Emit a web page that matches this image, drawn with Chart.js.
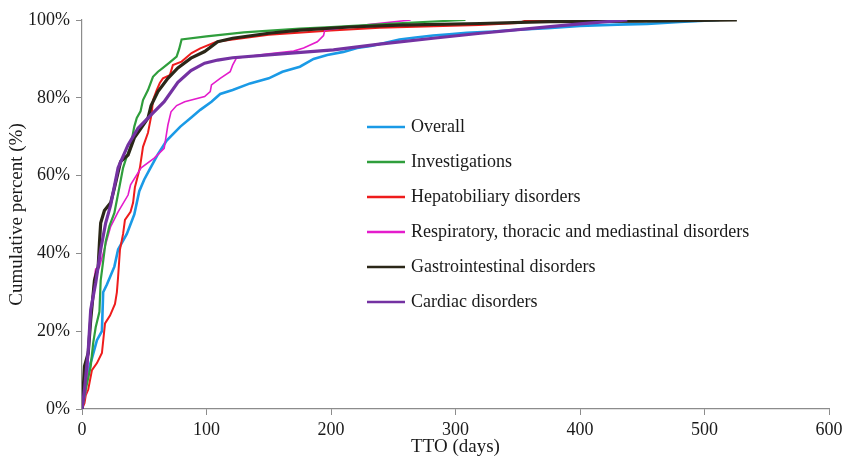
<!DOCTYPE html>
<html>
<head>
<meta charset="utf-8">
<script src="https://cdn.jsdelivr.net/npm/chart.js@4"></script>
<style>
  html, body { margin: 0; padding: 0; background: #fff; }
  #wrap { width: 842px; height: 458px; }
</style>
</head>
<body>
<div id="wrap"><canvas id="tto"></canvas></div>
<script>
// day values, cumulative percent per day
const overallDays = [0, 2, 4, 8, 12, 16, 17, 20, 26, 29, 36, 42, 46, 50, 55, 61, 68, 79, 88, 95, 104, 111, 121, 135, 150, 161, 175, 186, 197, 210, 221, 232, 242, 255, 268, 282, 295, 309, 330, 350, 374, 400, 430, 454, 480, 512];
const overallPct  = [0, 6, 9, 13, 17.7, 20, 30, 32, 36.6, 41, 45, 50, 56, 59, 62, 65.5, 69, 72.6, 75, 76.9, 79, 81, 82, 83.7, 85, 86.7, 88, 90, 91, 91.8, 92.8, 93.3, 94, 95, 95.5, 96, 96.3, 96.7, 97, 97.5, 97.9, 98.5, 98.8, 99, 99.5, 100];

const investDays = [0, 3, 7, 9, 11, 14, 15, 17, 19, 22, 26, 30, 33, 36, 39, 42, 44, 47, 49, 53, 57, 61, 65, 70, 76, 78, 80, 100, 130, 175, 200, 250, 308];
const investPct  = [0, 5, 11, 17, 21, 25, 33, 38, 43, 47, 50.4, 57, 62, 65, 67.5, 72.6, 74.8, 76.5, 79.4, 82, 85.4, 86.7, 87.7, 89, 90.6, 92.5, 95, 95.8, 96.8, 97.8, 98.2, 99.1, 100];

const hepatoDays = [0, 2, 3, 5, 8, 12, 16, 18.5, 22.5, 26.5, 28, 29, 30.5, 33, 34.5, 39, 41, 42.5, 46.5, 49, 53, 56, 57, 60, 62.5, 65, 70.5, 73, 80, 88, 95, 108, 121, 150, 200, 239, 319, 350, 358, 377];
const hepatoPct  = [0, 1.5, 3.5, 5, 10, 11.8, 14.4, 22, 24, 27, 30, 34, 41, 45, 48.6, 50.7, 53, 57, 62, 67.4, 71, 76, 79.4, 82, 83.8, 85, 85.8, 88.4, 89.3, 91.5, 92.7, 94.4, 95, 96.2, 97.3, 98, 98.7, 99.2, 100, 100];

const respDays = [0, 3, 5, 7, 10, 11, 14, 17, 23, 29, 37, 39, 47.5, 58, 66, 69, 71.5, 76, 82.5, 98.5, 103, 104, 111, 119, 121, 124, 130, 150, 170, 178, 189, 194, 195, 230, 264];
const respPct  = [0, 4, 12.6, 23.7, 34, 36, 36.6, 40, 46.9, 50.7, 55, 57.6, 62, 64.5, 67, 73, 76.4, 78, 79, 80.3, 81.6, 83.3, 85, 86.7, 88.4, 90.2, 90.5, 91.3, 92, 92.8, 94.4, 96, 97.4, 98.8, 100];

const gastroDays = [0, 1, 2, 5, 7, 10, 13, 14, 15, 18, 23, 26, 31, 37, 42, 47.5, 53, 55.5, 61, 69, 77, 87.5, 98.5, 109, 121, 150, 175, 215, 255, 320, 376, 450, 526];
const gastroPct  = [0, 5, 11, 14.4, 23, 33, 36.6, 42.6, 47.8, 51, 53, 56.8, 63.6, 65.3, 69.7, 72.2, 74.8, 78, 81.6, 85, 87.7, 90.2, 91.9, 94.4, 95.3, 96.6, 97.4, 98.2, 98.7, 99.1, 99.6, 99.7, 100];

const cardiacDays = [0, 2, 5, 7, 11, 15, 19, 23, 29, 37, 45, 55.5, 66, 77, 87.5, 98.5, 109, 121, 160, 202, 239, 282, 320, 376, 400, 438];
const cardiacPct  = [0, 5, 15, 25.5, 32.4, 41, 47.8, 52.4, 62, 67.9, 72.2, 75.6, 79, 84, 87, 88.9, 89.7, 90.3, 91.3, 92.3, 93.8, 95.3, 96.6, 98.3, 99, 100];

const seriesNames = ['Overall', 'Investigations', 'Hepatobiliary disorders', 'Respiratory, thoracic and mediastinal disorders', 'Gastrointestinal disorders', 'Cardiac disorders'];
const seriesColors = ['#1a9ae6', '#2f9e3c', '#ee1c1c', '#e41ccc', '#2b2718', '#7432a2'];
const seriesWidths = [2.6, 2.2, 2, 1.6, 3.2, 3.2];

const xTicks = [0, 100, 200, 300, 400, 500, 600];
const yTicks = [0, 20, 40, 60, 80, 100];

const FONT = '"Liberation Serif", "Times New Roman", serif';

function pts(days, pct) {
    return days.map((d, i) => ({ x: d, y: pct[i] }));
}

const allDays = [overallDays, investDays, hepatoDays, respDays, gastroDays, cardiacDays];
const allPct = [overallPct, investPct, hepatoPct, respPct, gastroPct, cardiacPct];

// draw order: later ones sit on top
const drawOrder = [0, 2, 3, 1, 4, 5];

const datasets = seriesNames.map((name, i) => ({
    label: name,
    data: pts(allDays[i], allPct[i]),
    borderColor: seriesColors[i],
    backgroundColor: seriesColors[i],
    borderWidth: seriesWidths[i],
    pointRadius: 0,
    showLine: true,
    tension: 0,
    order: 6 - drawOrder.indexOf(i)
}));

// legend inside the plot, like the original figure
const insideLegend = {
    id: 'insideLegend',
    afterDraw(chart) {
        const ctx = chart.ctx;
        const area = chart.chartArea;
        const lx = area.left + 285;
        const ly = area.top + 107;
        ctx.save();
        ctx.font = '18px ' + FONT;
        ctx.textBaseline = 'middle';
        ctx.fillStyle = '#1a1a1a';
        seriesNames.forEach((name, i) => {
            const y = ly + i * 35;
            ctx.strokeStyle = seriesColors[i];
            ctx.lineWidth = 2.5;
            ctx.beginPath();
            ctx.moveTo(lx, y);
            ctx.lineTo(lx + 38, y);
            ctx.stroke();
            ctx.fillText(name, lx + 44, y);
        });
        ctx.restore();
    }
};

new Chart(document.getElementById('tto'), {
    type: 'scatter',
    data: { datasets },
    options: {
        responsive: true,
        maintainAspectRatio: false,
        animation: false,
        layout: { padding: { left: 6, right: 13, top: 20, bottom: 0 } },
        plugins: {
            legend: { display: false },
            tooltip: { enabled: false }
        },
        scales: {
            x: {
                type: 'linear',
                min: 0,
                max: 600,
                afterBuildTicks: s => { s.ticks = xTicks.map(v => ({ value: v })); },
                ticks: {
                    font: { family: FONT, size: 18 },
                    color: '#1a1a1a',
                    padding: 4,
                    maxRotation: 0
                },
                grid: { drawOnChartArea: false, drawTicks: true, tickLength: 6, color: '#8c8c8c' },
                border: { color: '#8c8c8c', width: 1.2 },
                title: {
                    display: true,
                    text: 'TTO (days)',
                    font: { family: FONT, size: 19 },
                    color: '#1a1a1a',
                    padding: 0
                },
                afterFit: s => { s.height = 49; s.paddingRight = 0; }
            },
            y: {
                min: 0,
                max: 100,
                afterBuildTicks: s => { s.ticks = yTicks.map(v => ({ value: v })); },
                ticks: {
                    font: { family: FONT, size: 18 },
                    color: '#1a1a1a',
                    padding: 6,
                    callback: v => v + '%'
                },
                grid: { drawOnChartArea: false, drawTicks: true, tickLength: 6, color: '#8c8c8c' },
                border: { color: '#8c8c8c', width: 1.2 },
                title: {
                    display: true,
                    text: 'Cumulative percent (%)',
                    font: { family: FONT, size: 19 },
                    color: '#1a1a1a',
                    padding: { top: 0, bottom: 0, y: 0 }
                },
                afterFit: s => { s.width = 76; }
            }
        }
    },
    plugins: [insideLegend]
});
</script>
</body>
</html>
